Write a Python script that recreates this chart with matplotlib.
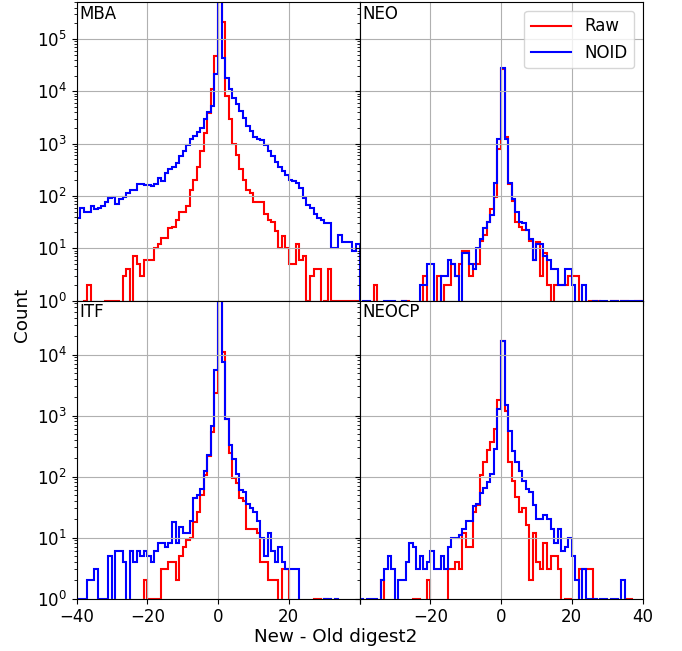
import numpy as np
import matplotlib
matplotlib.use('Agg')
import matplotlib.pyplot as plt

plt.rcParams['font.size'] = 12

# histogram bins: width 1 from -40 to 40
edges = np.arange(-40, 41)
panel_names = ['MBA', 'NEO', 'ITF', 'NEOCP']

# counts per bin, first list is bins -40..-1, second is 0..39
mba_raw = [0, 0, 1, 2, 0, 0, 0, 0, 1, 1,
           1, 1, 0, 3, 4, 0, 7, 5, 3, 6,
           6, 6, 10, 12, 16, 16, 24, 26, 35, 50,
           50, 64, 127, 200, 360, 710, 1600, 3800, 11000, 47000] + \
          [700000, 210000, 8100, 2900, 1000, 600, 330, 200, 130, 112,
           78, 78, 78, 46, 35, 32, 21, 10, 17, 10,
           5, 5, 12, 6, 7, 1, 3, 4, 4, 0,
           1, 4, 1, 1, 1, 1, 1, 1, 1, 1]
mba_noid = [37, 60, 49, 49, 64, 56, 60, 65, 78, 92,
            94, 70, 88, 97, 116, 127, 127, 168, 168, 160,
            160, 155, 170, 220, 190, 272, 325, 350, 425, 570,
            735, 950, 1200, 1400, 1650, 2000, 2900, 4000, 5200, 21000] + \
           [1500000, 43000, 18200, 11000, 7500, 5600, 4200, 3100, 2150, 1730,
            1340, 1200, 1150, 960, 710, 570, 440, 365, 305, 250,
            203, 190, 180, 140, 90, 67, 58, 46, 37, 35,
            31, 31, 10, 10, 18, 13, 13, 13, 9, 12]

neo_raw = [0, 0, 0, 0, 2, 0, 0, 0, 0, 0,
           0, 0, 1, 1, 0, 0, 0, 0, 3, 0,
           0, 0, 3, 0, 2, 2, 5, 3, 5, 9,
           9, 3, 5, 5, 14, 18, 32, 55, 97, 800] + \
          [27000, 1350, 170, 80, 32, 26, 22, 22, 14, 6,
           13, 3, 8, 2, 0, 2, 2, 2, 2, 3,
           3, 3, 0, 0, 0, 1, 1, 1, 0, 0,
           0, 1, 1, 0, 1, 1, 0, 0, 1, 1]
neo_noid = [0, 1, 1, 0, 0, 0, 0, 1, 1, 1,
            0, 0, 1, 0, 0, 0, 0, 2, 2, 5,
            5, 0, 0, 3, 3, 6, 5, 3, 0, 8,
            8, 5, 4, 10, 15, 24, 32, 44, 180, 1200] + \
           [28000, 1200, 180, 86, 50, 32, 30, 22, 15, 6,
            12, 12, 7, 6, 4, 4, 2, 2, 4, 4,
            2, 0, 0, 2, 0, 0, 1, 0, 1, 1,
            0, 1, 1, 0, 1, 1, 1, 1, 1, 1]

itf_raw = [0, 0, 0, 0, 0, 0, 0, 0, 0, 0,
           0, 0, 0, 0, 0, 0, 0, 0, 0, 2,
           1, 1, 1, 1, 3, 3, 4, 4, 2, 5,
           7, 9, 10, 18, 26, 50, 108, 220, 540, 2300] + \
          [200000, 11000, 880, 240, 95, 77, 44, 40, 14, 14,
           14, 12, 4, 4, 2, 2, 2, 0, 3, 3,
           0, 0, 0, 0, 0, 0, 0, 1, 1, 0,
           1, 0, 0, 0, 0, 0, 0, 0, 0, 0]
itf_noid = [1, 1, 1, 2, 2, 3, 1, 1, 1, 5,
            0, 6, 6, 4, 0, 6, 4, 6, 5, 6,
            5, 4, 6, 8, 8, 7, 8, 18, 8, 15,
            12, 12, 19, 44, 50, 62, 122, 224, 680, 5500] + \
           [300000, 7500, 890, 330, 195, 112, 61, 55, 36, 30,
            26, 19, 10, 5, 12, 6, 4, 7, 4, 3,
            3, 3, 3, 0, 0, 0, 0, 0, 0, 0,
            1, 1, 0, 1, 0, 0, 0, 0, 0, 0]

neocp_raw = [0, 0, 0, 0, 0, 0, 2, 0, 0, 0,
             0, 0, 0, 0, 0, 1, 1, 0, 0, 2,
             0, 0, 0, 0, 0, 3, 3, 4, 3, 12,
             7, 7, 26, 34, 105, 175, 270, 370, 610, 1780] + \
            [17000, 1200, 175, 84, 46, 26, 30, 16, 2, 12,
             4, 3, 8, 3, 5, 5, 3, 0, 1, 1,
             0, 0, 3, 3, 3, 3, 0, 0, 0, 0,
             0, 0, 0, 0, 0, 1, 1, 0, 0, 0]
neocp_noid = [1, 0, 1, 1, 1, 0, 2, 3, 5, 3,
              0, 2, 2, 4, 8, 7, 3, 5, 3, 4,
              6, 3, 3, 5, 3, 7, 10, 10, 11, 14,
              19, 19, 33, 36, 53, 66, 80, 110, 280, 1300] + \
             [17000, 1500, 550, 260, 175, 122, 84, 62, 55, 34,
              20, 20, 23, 20, 14, 8, 14, 6, 7, 10,
              5, 2, 0, 3, 1, 1, 1, 0, 1, 1,
              0, 1, 1, 0, 2, 0, 0, 0, 0, 0]

raw_counts = [mba_raw, neo_raw, itf_raw, neocp_raw]
noid_counts = [mba_noid, neo_noid, itf_noid, neocp_noid]
row_ylim = [(1, 5.0e5), (1, 7.7e4)]

fig, axes = plt.subplots(2, 2, figsize=(6.82, 6.51), dpi=100, sharey='row')
fig.subplots_adjust(left=0.1122, right=0.9421, bottom=0.0806, top=0.9962,
                    hspace=0, wspace=0)

for i, ax in enumerate(axes.flat):
    ax.stairs(raw_counts[i], edges, color='red', lw=1.5, label='Raw')
    ax.stairs(noid_counts[i], edges, color='blue', lw=1.5, label='NOID')
    ax.set_yscale('log')
    ax.set_xlim(-40, 40)
    ax.set_ylim(*row_ylim[i // 2])
    ax.grid(True)
    ax.text(0.01, 0.99, panel_names[i], transform=ax.transAxes,
            ha='left', va='top')

ticks = [-40, -20, 0, 20, 40]
for ax in axes[0]:
    ax.set_xticks(ticks)
    ax.tick_params(labelbottom=False)
axes[1, 0].set_xticks(ticks, ['\u221240', '\u221220', '0', '20', ''])
axes[1, 1].set_xticks(ticks, ['', '\u221220', '0', '20', '40'])

axes[0, 1].legend(loc='upper right', handlelength=2.4)

# figure level axis labels
fig.text(22 / 682, 1 - 315 / 651, 'Count', rotation=90,
         ha='center', va='center', fontsize=13.2)
fig.text(336 / 682, 1 - 637 / 651, 'New - Old digest2',
         ha='center', va='center', fontsize=13.2)

fig.savefig('out.png', dpi=100)
